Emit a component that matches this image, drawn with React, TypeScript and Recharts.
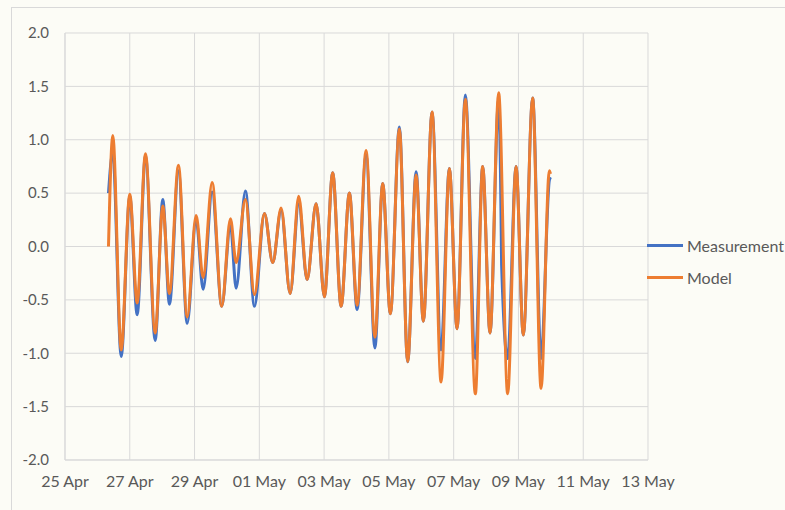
import React from 'react';
import { LineChart, Line, XAxis, YAxis, CartesianGrid } from 'recharts';

// time in days since 25 Apr 00:00, values in metres
const MEAS_T = [
  1.343, 1.475, 1.735, 2.0, 2.228, 2.485, 2.784, 3.019, 3.225, 3.503, 3.772, 4.049, 4.265, 4.543,
  4.84, 5.108, 5.284, 5.571, 5.849, 6.157, 6.414, 6.673, 6.951, 7.216, 7.475, 7.753, 8.009, 8.265,
  8.525, 8.781, 9.019, 9.296, 9.568, 9.809, 10.046, 10.324, 10.58, 10.84, 11.065, 11.333, 11.611,
  11.867, 12.105, 12.361, 12.67, 12.895, 13.123, 13.389, 13.47, 13.48, 13.667, 13.926, 14.151,
  14.438, 14.698, 14.954, 14.99,
];
const MEAS_V = [
  0.5, 0.88, -1.03, 0.47, -0.64, 0.85, -0.88, 0.44, -0.54, 0.71, -0.72, 0.25, -0.4, 0.51,
  -0.56, 0.2, -0.39, 0.52, -0.56, 0.31, -0.15, 0.34, -0.44, 0.4, -0.31, 0.4, -0.47, 0.69,
  -0.56, 0.5, -0.59, 0.86, -0.95, 0.59, -0.63, 1.12, -1.08, 0.7, -0.7, 1.26, -0.97,
  0.73, -0.77, 1.42, -1.05, 0.75, -0.81, 1.38, 0.1, -0.17, -1.05, 0.75, -0.83,
  1.39, -1.05, 0.62, 0.65,
];

const MODEL_T = [
  1.343, 1.475, 1.735, 2.0, 2.228, 2.485, 2.784, 3.019, 3.225, 3.503, 3.772, 4.049, 4.265, 4.543,
  4.84, 5.108, 5.284, 5.571, 5.849, 6.157, 6.414, 6.673, 6.951, 7.216, 7.475, 7.753, 8.009, 8.265,
  8.525, 8.781, 9.019, 9.296, 9.568, 9.809, 10.046, 10.324, 10.58, 10.84, 11.065, 11.333, 11.611,
  11.867, 12.105, 12.361, 12.67, 12.895, 13.123, 13.389, 13.667, 13.926, 14.151, 14.438, 14.698,
  14.954, 14.99,
];
const MODEL_V = [
  0.0, 1.04, -0.97, 0.49, -0.53, 0.87, -0.81, 0.38, -0.44, 0.76, -0.66, 0.29, -0.29, 0.6,
  -0.56, 0.26, -0.15, 0.44, -0.45, 0.31, -0.15, 0.36, -0.44, 0.47, -0.31, 0.4, -0.47, 0.69,
  -0.56, 0.5, -0.55, 0.9, -0.85, 0.59, -0.63, 1.1, -1.08, 0.67, -0.7, 1.26, -1.27,
  0.73, -0.77, 1.38, -1.38, 0.75, -0.81, 1.44, -1.38, 0.75, -0.83, 1.39, -1.33,
  0.71, 0.68,
];

const X_TICKS = [0, 2, 4, 6, 8, 10, 12, 14, 16, 18];
const X_LABELS = ['25 Apr', '27 Apr', '29 Apr', '01 May', '03 May', '05 May', '07 May', '09 May', '11 May', '13 May'];
const Y_TICKS = [-2, -1.5, -1, -0.5, 0, 0.5, 1, 1.5, 2];

const SERIES = [
  { name: 'Measurement', color: '#4472C4' },
  { name: 'Model', color: '#ED7D31' },
];

const measData = MEAS_T.map((t, i) => ({ t, v: MEAS_V[i] }));
const modelData = MODEL_T.map((t, i) => ({ t, v: MODEL_V[i] }));

const FONT = 'Lato, "Open Sans", sans-serif';
const TEXT = '#595959';

function LegendBox() {
  return (
    <div style={{ position: 'absolute', left: 647, top: 229, fontFamily: FONT, fontSize: 16, color: TEXT }}>
      {SERIES.map((s) => (
        <div key={s.name} style={{ display: 'flex', alignItems: 'center', height: 32, whiteSpace: 'nowrap' }}>
          <div style={{ width: 36, height: 3, background: s.color, marginRight: 4 }} />
          <span>{s.name}</span>
        </div>
      ))}
    </div>
  );
}

export default function App() {
  return (
    <div style={{ position: 'absolute', left: 0, top: 0, width: 785, height: 510, background: '#fcfcf6', overflow: 'hidden' }}>
      <div
        style={{
          position: 'absolute',
          left: 11,
          top: 7,
          width: 800,
          height: 520,
          borderLeft: '1px solid #d9d9d9',
          borderTop: '1px solid #d9d9d9',
        }}
      />
      <LineChart
        width={785}
        height={510}
        margin={{ top: 33, right: 137, bottom: 20, left: 0 }}
        style={{ position: 'absolute', left: 0, top: 0 }}
      >
        <CartesianGrid stroke="#d9d9d9" strokeWidth={1} />
        <XAxis
          type="number"
          dataKey="t"
          domain={[0, 18]}
          ticks={X_TICKS}
          tickFormatter={(v) => X_LABELS[X_TICKS.indexOf(v)] ?? ''}
          allowDuplicatedCategory={false}
          height={30}
          axisLine={{ stroke: '#d9d9d9' }}
          tickLine={false}
          tickSize={6}
          tickMargin={10}
          tick={{ fill: TEXT, fontSize: 16, fontFamily: FONT }}
          interval={0}
        />
        <YAxis
          type="number"
          domain={[-2, 2]}
          ticks={Y_TICKS}
          tickFormatter={(v) => v.toFixed(1)}
          width={65}
          axisLine={{ stroke: '#d9d9d9' }}
          tickLine={false}
          tickSize={6}
          tickMargin={10}
          tick={{ fill: TEXT, fontSize: 15, fontFamily: FONT }}
          interval={0}
        />
        <Line
          data={measData}
          dataKey="v"
          name={SERIES[0].name}
          type="monotone"
          stroke={SERIES[0].color}
          strokeWidth={3}
          dot={false}
          isAnimationActive={false}
        />
        <Line
          data={modelData}
          dataKey="v"
          name={SERIES[1].name}
          type="monotone"
          stroke={SERIES[1].color}
          strokeWidth={3}
          dot={false}
          isAnimationActive={false}
        />
      </LineChart>
      <LegendBox />
    </div>
  );
}
